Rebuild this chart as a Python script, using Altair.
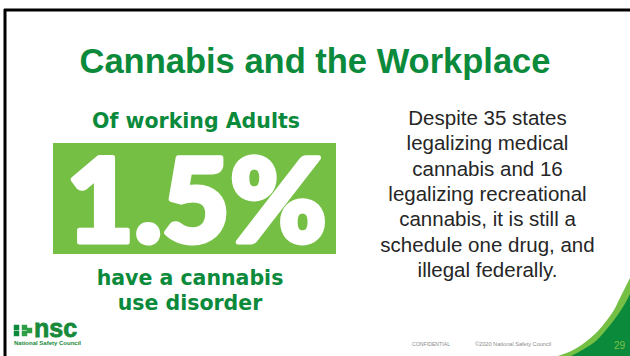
import altair as alt
import pandas as pd

# ---- content ----
title_text = "Cannabis and the Workplace"
stat_value = 1.5
stat_label = "1.5%"
stat_top = ["Of working Adults"]
stat_bottom = ["have a cannabis", "use disorder"]
body_lines = ["Despite 35 states", "legalizing medical", "cannabis and 16",
              "legalizing recreational", "cannabis, it is still a",
              "schedule one drug, and", "illegal federally."]
footer_conf = "CONFIDENTIAL"
footer_copy = "\u00a92020 National Safety Council"
page_no = "29"
logo_word = "nsc"
logo_sub = "National Safety Council"

# decorative swoosh outline (page coordinates)
swoosh_outer_x = [558, 575, 588, 598, 607, 614, 619, 624, 628, 630]
swoosh_outer_y = [356, 349, 340, 331, 320, 310, 300, 290, 282, 278]
swoosh_inner_x = [571, 584, 597, 606, 614, 621, 627, 630]
swoosh_inner_y = [356, 349, 340, 330, 320, 310, 300, 294]

DARK = "#0b8a3c"
LIGHT = "#74bf44"
W, H = 630, 356

xs = alt.Scale(domain=[0, W], range=[0, W], nice=False, zero=False)
ys = alt.Scale(domain=[0, H], range=[0, H], nice=False, zero=False)


def X(f="x"):
    return alt.X(f, type="quantitative", scale=xs, axis=None)


def Y(f="y"):
    return alt.Y(f, type="quantitative", scale=ys, axis=None)


def text_layer(df, **kw):
    return alt.Chart(df).mark_text(**kw).encode(x=X(), y=Y(), text="t:N")


layers = []

# border lines
layers.append(alt.Chart(pd.DataFrame({"x": [4], "x2": [W], "y": [10]})).mark_rule(
    color="black", strokeWidth=3).encode(x=X(), x2="x2:Q", y=Y()))
layers.append(alt.Chart(pd.DataFrame({"x": [5], "y": [9], "y2": [H]})).mark_rule(
    color="black", strokeWidth=3).encode(x=X(), y=Y(), y2="y2:Q"))

# swoosh
layers.append(alt.Chart(pd.DataFrame({"x": swoosh_outer_x, "y": swoosh_outer_y, "y2": [H] * len(swoosh_outer_x)}))
              .mark_area(color=LIGHT, opacity=1, interpolate="monotone")
              .encode(x=X(), y=Y(), y2="y2:Q"))
layers.append(alt.Chart(pd.DataFrame({"x": swoosh_inner_x, "y": swoosh_inner_y, "y2": [H] * len(swoosh_inner_x)}))
              .mark_area(color=DARK, opacity=1, interpolate="monotone")
              .encode(x=X(), y=Y(), y2="y2:Q"))

# title
layers.append(text_layer(pd.DataFrame({"x": [315], "y": [73], "t": [title_text]}),
                         font="Liberation Sans", fontWeight="bold", fontSize=34.5,
                         color=DARK, align="center", baseline="alphabetic"))

# stat box
layers.append(alt.Chart(pd.DataFrame({"x": [53], "x2": [336], "y": [143], "y2": [254], "v": [stat_value]}))
              .mark_rect(color=LIGHT).encode(x=X(), x2="x2:Q", y=Y(), y2="y2:Q"))
layers.append(text_layer(pd.DataFrame({"x": [196.5], "y": [242], "t": [stat_label]}),
                         font="Lato", fontWeight=900, fontSize=117, color="white",
                         stroke="white", strokeWidth=5, strokeJoin="round",
                         align="center", baseline="alphabetic"))
layers.append(text_layer(pd.DataFrame({"x": [196], "y": [128], "t": stat_top}),
                         font="DejaVu Sans", fontWeight="bold", fontSize=20.5, color=DARK,
                         align="center", baseline="alphabetic"))
layers.append(text_layer(pd.DataFrame({"x": [190, 190], "y": [285, 310], "t": stat_bottom}),
                         font="DejaVu Sans", fontWeight="bold", fontSize=20.5, color=DARK,
                         align="center", baseline="alphabetic"))

# body text
body_y = [125 + 25.3 * i for i in range(len(body_lines))]
layers.append(text_layer(pd.DataFrame({"x": [487.5] * len(body_lines), "y": body_y, "t": body_lines}),
                         font="Liberation Sans", fontSize=20.5, color="#262626",
                         align="center", baseline="alphabetic"))

# logo
layers.append(alt.Chart(pd.DataFrame({"x": [16.5, 16.5, 24.5, 24.5, 29.5], "y": [327.5, 333.5, 327.5, 333.5, 330.5],
                                      "c": ["d", "d", "l", "l", "l"]}))
              .mark_square(size=30, opacity=1)
              .encode(x=X(), y=Y(),
                      color=alt.Color("c:N", scale=alt.Scale(domain=["d", "l"], range=[DARK, "#2e9e44"]),
                                      legend=None)))
layers.append(text_layer(pd.DataFrame({"x": [34], "y": [337], "t": [logo_word]}),
                         font="Liberation Sans", fontWeight="bold", fontSize=25, color="#178a3a",
                         stroke="#178a3a", strokeWidth=0.8,
                         align="left", baseline="alphabetic"))
layers.append(text_layer(pd.DataFrame({"x": [14], "y": [345], "t": [logo_sub]}),
                         font="Liberation Sans", fontWeight="bold", fontSize=6, color="#178a3a",
                         align="left", baseline="alphabetic"))

# footer
layers.append(text_layer(pd.DataFrame({"x": [412], "y": [346], "t": [footer_conf]}),
                         font="Liberation Sans", fontSize=5.2, color="#8a8a8a",
                         align="left", baseline="alphabetic"))
layers.append(text_layer(pd.DataFrame({"x": [475], "y": [346], "t": [footer_copy]}),
                         font="Liberation Sans", fontSize=5.6, color="#8a8a8a",
                         align="left", baseline="alphabetic"))
layers.append(text_layer(pd.DataFrame({"x": [619.5], "y": [349], "t": [page_no]}),
                         font="Liberation Sans", fontSize=10, color="#7cc24a",
                         align="center", baseline="alphabetic"))

chart = alt.layer(*layers).properties(
    width=W, height=H, padding=0, autosize=alt.AutoSizeParams(type="none"), background="white"
).configure_view(stroke=None)

chart.save("out.html", embed_options={"renderer": "svg", "actions": False})
